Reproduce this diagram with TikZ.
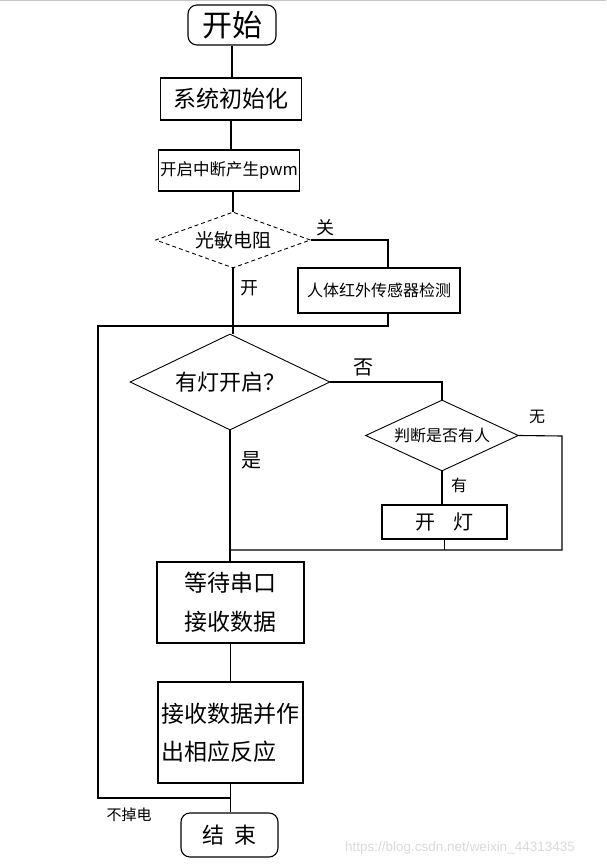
\documentclass[tikz,border=0pt]{standalone}
\usepackage{fontspec}
\setmainfont{Noto Sans CJK SC}
\newfontfamily\markfont{Liberation Sans}
\usetikzlibrary{shapes.geometric}

\begin{document}
\begin{tikzpicture}[x=1pt, y=-1pt]
    \tikzstyle{box_style} = [draw, rectangle, line width=1.1pt, inner sep=0pt]
    \tikzstyle{term_style} = [draw, rectangle, rounded corners=9pt, line width=1.1pt, inner sep=0pt]
    \tikzstyle{dec_style} = [draw, diamond, line width=0.9pt, inner sep=0pt]
    \tikzstyle{line_style} = [black, line width=1.1pt]
    \tikzstyle{label_style} = [inner sep=0pt]

    \useasboundingbox (0,0) rectangle (606,866);
    \draw[gray!45, line width=1pt] (0,0.5) -- (606,0.5);

    \node[term_style, minimum width=88pt, minimum height=40pt, font=\fontsize{30}{30}\selectfont] (start) at (232,25) {开始};
    \node[box_style, minimum width=141pt, minimum height=42pt, font=\fontsize{23}{23}\selectfont] (init) at (231,99) {系统初始化};
    \node[box_style, minimum width=141pt, minimum height=41pt, font=\fontsize{16.5}{16.5}\selectfont] (pwm) at (229,170.5) {开启中断产生pwm};
    \node[dec_style, dashed, dash pattern=on 4pt off 3pt, aspect=2.77, minimum width=155pt, minimum height=56pt, font=\fontsize{19}{19}\selectfont] (ldr) at (233,240) {光敏电阻};
    \node[box_style, minimum width=162pt, minimum height=45pt, font=\fontsize{16}{16}\selectfont] (pir) at (379,290.5) {人体红外传感器检测};
    \node[dec_style, aspect=2.08, minimum width=200pt, minimum height=96pt, font=\fontsize{22}{22}\selectfont] (light) at (230,382) {有灯开启？};
    \node[dec_style, aspect=2.15, minimum width=153pt, minimum height=71pt, font=\fontsize{16}{16}\selectfont] (person) at (442,435.5) {判断是否有人};
    \node[box_style, minimum width=125pt, minimum height=34pt, font=\fontsize{20}{20}\selectfont] (lamp) at (444.5,522) {开\hspace{18pt}灯};
    \node[box_style, minimum width=147pt, minimum height=81pt, align=center, font=\fontsize{23}{39}\selectfont] (wait) at (230.5,602.5) {等待串口\\接收数据};
    \node[box_style, minimum width=145pt, minimum height=101pt, align=left, font=\fontsize{23}{38}\selectfont] (react) at (230.5,732.5) {接收数据并作\\出相应反应};
    \node[term_style, minimum width=97pt, minimum height=44pt, font=\fontsize{22}{22}\selectfont] (stop) at (229.5,835) {结\hspace{10pt}束};

    \node[label_style, font=\fontsize{18}{18}\selectfont] (lbl_off) at (325,228) {关};
    \node[label_style, font=\fontsize{18}{18}\selectfont] (lbl_on) at (249,288) {开};
    \node[label_style, font=\fontsize{20}{20}\selectfont] (lbl_no) at (363,367) {否};
    \node[label_style, font=\fontsize{20}{20}\selectfont] (lbl_yes) at (251,460) {是};
    \node[label_style, font=\fontsize{16}{16}\selectfont] (lbl_none) at (537,417) {无};
    \node[label_style, font=\fontsize{16}{16}\selectfont] (lbl_have) at (459,485) {有};
    \node[label_style, font=\fontsize{15}{15}\selectfont] (lbl_power) at (129,815) {不掉电};
    \node[label_style, text=gray!30, font=\markfont\fontsize{13.5}{13.5}\selectfont] (watermark) at (460,848) {https://blog.csdn.net/weixin\_44313435};

    \coordinate (off_corner) at (388,240);
    \coordinate (pir_join) at (388,326);
    \coordinate (loop_top) at (98,326);
    \coordinate (loop_bot) at (98,798);
    \coordinate (none_corner) at (562,436);
    \coordinate (merge_right) at (562,550);

    \draw[line_style] (start.south) -- (start.south |- init.north);
    \draw[line_style] (init.south) -- (init.south |- pwm.north);
    \draw[line_style] (ldr.north |- pwm.south) -- (ldr.north);
    \draw[line_style] (ldr.east) -- (off_corner) -- (off_corner |- pir.north);
    \draw[line_style] (pir_join |- pir.south) -- (pir_join) -- (ldr.south |- pir_join);
    \draw[line_style] (ldr.south) -- (ldr.south |- light.north);
    \draw[line_style] (ldr.south |- loop_top) -- (loop_top) -- (loop_bot) -- (react.south |- loop_bot);
    \draw[line_style] (light.east) -- (person.north |- light.east) -- (person.north);
    \draw[line_style] (person.east) -- (none_corner) -- (merge_right) -- (light.south |- merge_right);
    \draw[line_style] (person.south) -- (person.south |- lamp.north);
    \draw[line_style] (lamp.south) -- (lamp.south |- merge_right);
    \draw[line_style] (light.south) -- (light.south |- wait.north);
    \draw[line_style] (wait.south) -- (wait.south |- react.north);
    \draw[line_style] (react.south) -- (react.south |- stop.north);
\end{tikzpicture}
\end{document}
